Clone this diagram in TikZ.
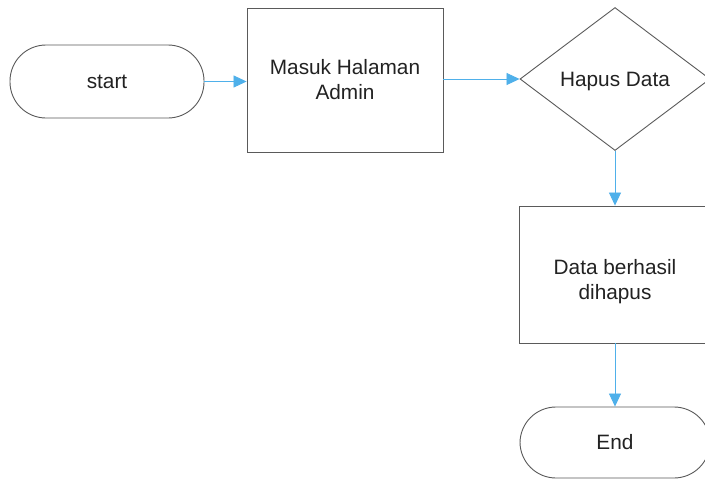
\documentclass[tikz,border=0pt]{standalone}
\usepackage{fontspec}
\setmainfont{Liberation Sans}
\usetikzlibrary{arrows.meta,shapes.geometric}
\definecolor{edgegrey}{HTML}{5A5A5A}
\definecolor{flowblue}{HTML}{4FB0EA}
\definecolor{inkgrey}{HTML}{222222}
\begin{document}
\begin{tikzpicture}[x=1pt,y=-1pt,
  label text/.style={text=inkgrey,font=\fontsize{20.8}{25}\selectfont,align=center,inner sep=0pt},
  base/.style={draw=edgegrey,line width=0.9pt,fill=white,label text},
  terminal/.style={base,rectangle,rounded corners=36pt},
  procbox/.style={base,rectangle},
  decision/.style={base,diamond,aspect=1.33},
  flow/.style={draw=flowblue,line width=0.8pt,
    -{Triangle[length=13pt,width=12pt,fill=flowblue]}}]
  \useasboundingbox (0,0) rectangle (705,480);
  \clip (0,0) rectangle (705,480);
  \fill[white] (0,0) rectangle (705,480);

  % shapes
  \node[terminal,minimum width=194pt,minimum height=73pt] (start) at (107,81.5) {start};
  \node[procbox,minimum width=196pt,minimum height=144pt] (admin) at (345,80) {Masuk Halaman\\Admin};
  \node[decision,minimum width=190pt,minimum height=143pt] (hapus) at (615,79) {};
  \node[label text] (hapustext) at ([yshift=-2.5pt]hapus.center) {Hapus Data};
  \node[procbox,minimum width=192pt,minimum height=137pt] (done) at (615,274.5) {};
  \node[label text] (donetext) at ([yshift=-7pt]done.center) {Data berhasil\\dihapus};
  \node[terminal,minimum width=190pt,minimum height=71pt] (end) at (615,442.5) {End};

  % connectors
  \draw[flow] (start.east) -- (start.east -| admin.west);
  \draw[flow] (hapus.west -| admin.east) -- (hapus.west);
  \draw[flow] (hapus.south) -- (done.north);
  \draw[flow] (done.south) -- (end.north);
\end{tikzpicture}
\end{document}
